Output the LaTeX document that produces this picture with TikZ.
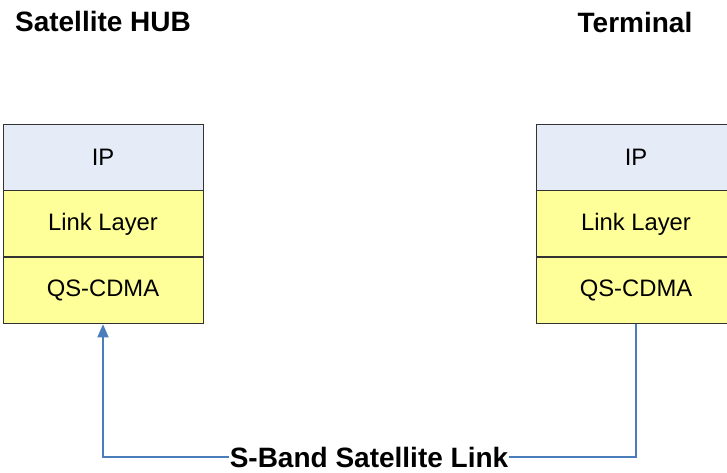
\documentclass[tikz,border=0pt]{standalone}
\usepackage{fontspec}
\setmainfont{Liberation Sans}
\usepackage{xcolor}
\usetikzlibrary{positioning,arrows.meta}
\definecolor{ipblue}{HTML}{E6ECF7}
\definecolor{layeryellow}{HTML}{FFFF99}
\definecolor{linkblue}{HTML}{4A7EBB}

\begin{document}
\begin{tikzpicture}[x=1pt, y=-1pt,
    layer/.style={draw=black!80, line width=0.9pt, minimum width=200pt, minimum height=66pt, inner sep=0pt, font=\fontsize{23.8}{28}\selectfont},
    title/.style={font=\fontsize{28}{33}\selectfont\bfseries}]
    \useasboundingbox (0,0) rectangle (727,472);

    % Satellite HUB stack
    \node [layer, fill=ipblue] (hIP) at (103,157) {IP};
    \node [layer, fill=layeryellow, below=0pt of hIP] (hLL) {Link Layer};
    \node [layer, fill=layeryellow, below=0pt of hLL] (hQS) {QS-CDMA};

    % Terminal stack
    \node [layer, fill=ipblue] (tIP) at (636,157) {IP};
    \node [layer, fill=layeryellow, below=0pt of tIP] (tLL) {Link Layer};
    \node [layer, fill=layeryellow, below=0pt of tLL] (tQS) {QS-CDMA};

    \node [title] (hub) at (103,21) {Satellite HUB};
    \node [title] (term) at (635,22) {Terminal};

    \coordinate (tB) at (636,457);
    \coordinate (hB) at (103,457);
    \draw [linkblue, line width=1.5pt, -{Triangle[length=13pt,width=11pt]}] (tQS.south) -- (tB) -- (hB) -- (hQS.south);
    \node [title, fill=white, inner sep=1pt] (link) at (369,457) {S-Band Satellite Link};
\end{tikzpicture}
\end{document}
